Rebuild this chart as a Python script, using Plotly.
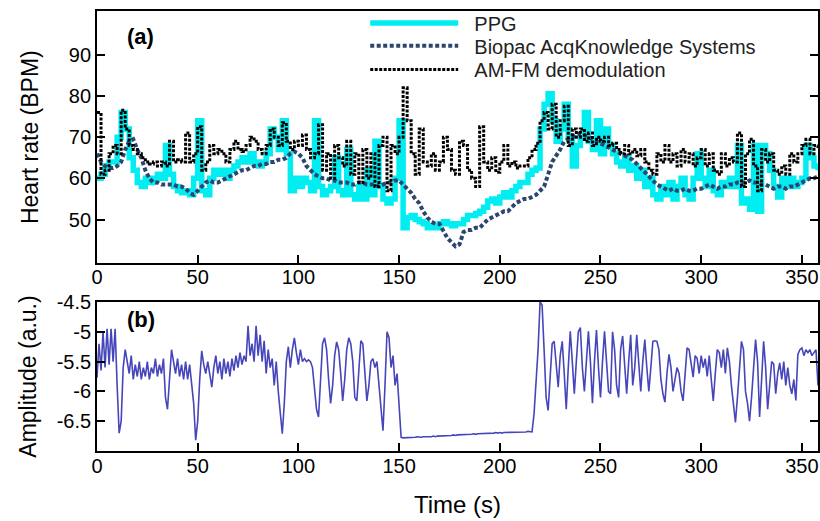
import numpy as np
import plotly.graph_objects as go

# ---------------- data ----------------
# Heart rate series sampled every 2 s from t = 0 s
ppg = [60, 61, 63, 64, 64, 70, 76, 72, 65, 62,
       59, 58, 60, 59, 60, 61, 60, 68, 61, 58,
       57, 56.5, 57, 56, 60, 74, 57, 56, 60, 62,
       61, 62, 60, 62, 63, 64, 65, 64, 66, 64,
       63, 64, 66, 72, 70, 67, 74, 66, 57, 60,
       58, 60, 59, 57, 74, 58, 56, 57, 58, 65,
       57, 56, 67, 56, 55, 58, 55, 62, 56, 69,
       58, 55, 54, 55, 60, 74, 48, 50.5, 51, 50,
       49.5, 49, 48, 48.5, 48, 49, 49.5, 49, 48.5, 49,
       49, 50, 51, 51, 51.5, 52, 53, 54.5, 55, 54,
       55.5, 56.5, 55.5, 57, 58, 59, 59, 61, 62, 62.5,
       72, 78, 80.5, 74, 69, 72, 78, 70, 63, 68,
       70, 76, 69, 67, 74, 66, 72, 68, 66, 64,
       63, 65, 62, 63, 60, 62, 58, 60, 56, 55,
       58, 56, 59, 55, 58, 60, 56, 55, 60, 66,
       60, 58, 62, 57, 56, 59, 58, 60, 58, 68,
       54, 55, 52.5, 68, 52, 68, 66, 62, 58, 55.5,
       60, 58, 60, 58, 59, 60, 68, 65, 63, 62]

biopac = [66, 64, 63, 62.5, 62.5, 63, 64, 67, 69, 69.5,
          67, 65, 62, 60, 59, 59, 58.5, 58.5, 58.5, 58.5,
          58, 58, 57.5, 56.5, 56, 57, 58, 59, 59.5, 59,
          59, 59.5, 60, 60.5, 61, 61.5, 62, 62, 62.5, 63,
          63, 63.5, 63.5, 64, 64, 64.5, 64.5, 65, 66, 66.5,
          66, 65, 63, 62, 61, 60.5, 60, 60, 59.5, 59.5,
          59, 59, 59, 58.5, 58.5, 59, 59, 58.5, 58.5, 58.5,
          58, 58.5, 59, 59, 59.5, 59.5, 58.5, 57.5, 56.5, 55,
          54, 52, 50.5, 49.5, 49, 49, 47, 45.5, 44.5, 43.5,
          44, 47, 47.5, 47.5, 48, 48, 49, 50, 50.5, 51,
          51.5, 52, 52, 53, 54, 54.5, 55, 55, 55.5, 56,
          57, 58, 61, 64, 65.5, 67, 69, 69.5, 70, 70.5,
          71, 70.5, 70, 69.5, 69, 68.5, 68, 67.5, 67, 66.5,
          66, 65.5, 65, 64.5, 63.5, 62.5, 61.5, 60.5, 59.5, 58.5,
          58, 57.5, 57, 57.5, 57, 57, 57.5, 57, 57, 57.5,
          57.5, 58, 58.5, 58, 57.5, 58, 58, 58.5, 58.5, 59,
          59, 59, 59.5, 59, 59, 58.5, 58.5, 58, 57.5, 58,
          58, 57.5, 58, 58, 58.5, 59, 59.5, 60, 60, 60.5]

amfm = [76, 61, 62, 66, 68, 66, 76.5, 72, 68, 67,
        66, 65, 64, 63.5, 64, 63, 64, 63, 69, 64,
        64.5, 64, 71, 64, 66, 72.5, 62, 64, 68, 66,
        67, 66, 64, 67, 69, 67, 66.5, 68, 70, 69,
        67, 66, 68, 72, 70, 68, 73.5, 69, 67, 69,
        68, 70.5, 67, 65, 66, 73, 62, 66, 60, 68,
        65, 63, 69, 61, 66, 59, 67, 60, 66, 58,
        68, 70, 57, 68, 66, 70, 82, 74, 66, 61,
        72, 64, 63, 66, 62, 64, 70, 67, 62, 61,
        69, 68, 62, 60, 58, 72.5, 64, 62, 65, 61.5,
        64, 68, 63, 64, 62.5, 63, 63, 65, 67, 68.5,
        74, 76, 72, 78, 70, 74, 77.5, 68, 72, 70,
        72, 69, 71, 68, 70, 69, 70, 68, 68.5, 67,
        66, 68, 66, 67, 65.5, 67, 64, 62, 61, 66,
        64, 68, 64, 66, 63, 67, 64, 66, 63, 65,
        67, 63, 66, 62, 61, 66, 63, 65, 64, 71,
        58, 66, 69.5, 63, 57, 67, 64, 66, 62, 61,
        63, 61, 66, 64, 66, 68, 69.5, 66, 68, 67]

# Amplitude sampled every 1 s from t = 0 s
amp = [-5.77, -5.2, -5.65, -5.0, -5.6, -4.95, -5.55, -4.95, -5.5, -4.95,
       -5.9, -6.7, -6.5, -5.6, -5.3, -5.5, -5.7, -5.4, -5.8, -5.55,
       -5.75, -5.5, -5.8, -5.6, -5.75, -5.5, -5.8, -5.6, -5.7, -5.45,
       -5.75, -5.55, -5.7, -5.45, -6.1, -6.3, -5.8, -5.3, -5.5, -5.7,
       -5.45, -5.75, -5.55, -5.8, -5.5, -5.8, -5.55, -5.85, -6.2, -6.82,
       -6.5, -5.8, -5.32, -5.55, -5.7, -5.5, -5.75, -5.93, -5.6, -5.4,
       -5.7, -5.5, -5.8, -5.45, -5.7, -5.5, -5.75, -5.45, -5.65, -5.4,
       -5.6, -5.35, -5.55, -5.4, -5.5, -4.9, -5.4, -5.2, -5.5, -4.9,
       -5.4, -5.05, -5.5, -5.15, -5.7, -5.3, -5.6, -5.45, -5.9, -5.5,
       -6.0, -6.4, -6.71, -6.2, -5.5, -5.25, -5.6, -5.3, -5.1, -5.35,
       -5.55, -5.3, -5.5, -5.45, -5.5, -5.47, -5.5, -5.6, -5.9, -6.3,
       -6.43, -5.9, -5.2, -5.1, -5.3, -5.8, -6.2, -5.9, -5.4, -5.17,
       -5.3, -5.7, -6.16, -5.8, -5.3, -5.1, -5.2, -5.5, -6.1, -6.16,
       -5.6, -5.15, -5.2, -5.7, -6.16, -5.9, -5.5, -5.45, -5.6, -5.5,
       -5.9, -6.3, -6.66, -5.9, -5.0, -5.1, -5.6, -5.4, -5.9, -5.7,
       -6.3, -6.77,
       -6.78, -6.78, -6.77, -6.78, -6.77, -6.77, -6.77, -6.76, -6.77,
       -6.77, -6.76, -6.76, -6.77, -6.76, -6.76, -6.75, -6.76, -6.75, -6.75,
       -6.75, -6.74, -6.75, -6.74, -6.74, -6.74, -6.73, -6.74, -6.73, -6.73,
       -6.73, -6.72, -6.73, -6.72, -6.72, -6.72, -6.71, -6.72, -6.71, -6.71,
       -6.71, -6.71, -6.70, -6.71, -6.70, -6.70, -6.70, -6.69, -6.70, -6.69,
       -6.70, -6.69, -6.69, -6.69, -6.68, -6.69, -6.68, -6.69, -6.68, -6.68,
       -6.68, -6.69, -6.68, -6.67, -6.68, -6.68,
       -6.38, -5.9, -5.3, -4.5, -4.55, -5.3, -6.1, -6.32, -5.7, -5.2,
       -5.16, -5.6, -5.93, -5.4, -5.16, -5.7, -6.3, -5.6, -4.99, -5.5,
       -6.04, -5.5, -5.0, -4.93, -5.6, -6.0, -5.4, -4.99, -5.5, -6.2,
       -5.5, -4.97, -5.6, -6.1, -5.5, -4.99, -5.5, -6.0, -6.04, -5.0,
       -5.3, -5.9, -6.1, -5.3, -5.07, -5.6, -6.04, -5.5, -5.05, -5.9,
       -5.6, -5.05, -5.6, -6.0, -5.5, -5.13, -5.6, -6.0, -5.6, -5.16,
       -5.15, -5.16, -5.3, -5.8, -6.04, -6.18, -5.7, -5.38, -5.6, -6.0,
       -5.8, -5.6, -5.7, -6.0, -6.16, -5.7, -5.27, -5.3, -5.5, -5.76,
       -5.4, -5.45, -5.7, -5.4, -5.6, -5.45, -5.75, -5.4, -5.8, -6.16,
       -5.7, -5.3, -5.35, -5.6, -5.3, -5.7, -5.27, -5.5, -5.9, -6.2,
       -6.52, -6.1, -5.6, -5.16, -5.3, -6.0, -6.2, -6.5, -6.1, -5.65,
       -5.13, -5.5, -6.43, -5.8, -5.16, -5.6, -6.3, -5.9, -5.5, -5.54,
       -6.04, -5.7, -5.52, -5.8, -5.5, -5.9, -5.6, -5.9, -6.04, -5.8,
       -6.15, -5.38, -5.3, -5.27, -5.4, -5.3, -5.35, -5.3, -5.4, -5.35,
       -5.3, -5.9, -5.5]

x_ticks = [0, 50, 100, 150, 200, 250, 300, 350]
hr_ticks = [50, 60, 70, 80, 90]
amp_ticks = [-4.5, -5, -5.5, -6, -6.5]
amp_tick_text = ["-4.5", "-5", "-5.5", "-6", "-6.5"]

t_hr = np.arange(len(ppg)) * 2
t_amp = np.arange(len(amp))

FONT = "Liberation Sans, Arial, Helvetica, sans-serif"
PAD = "\u00a0\u00a0"

fig = go.Figure()
fig.add_trace(go.Scatter(x=t_hr, y=ppg, name=PAD + "PPG", mode="lines", line_shape="hv",
                         line=dict(color="#00EEF2", width=5.5), xaxis="x", yaxis="y",
                         legend="legend"))
fig.add_trace(go.Scatter(x=t_hr, y=biopac, name=PAD + "Biopac AcqKnowledge Systems", mode="lines",
                         line=dict(color="#2C4670", width=4, dash="4px,2.5px"), xaxis="x", yaxis="y",
                         legend="legend2"))
fig.add_trace(go.Scatter(x=t_hr, y=amfm, name=PAD + "AM-FM demodulation", mode="lines", line_shape="hv",
                         line=dict(color="#000000", width=3, dash="3px,1.5px"), xaxis="x", yaxis="y",
                         legend="legend3"))
fig.add_trace(go.Scatter(x=t_amp, y=amp, name="Amplitude", mode="lines", showlegend=False,
                         line=dict(color="#4646BA", width=1.6), xaxis="x2", yaxis="y2"))

axis_common = dict(showline=True, linecolor="black", linewidth=1.8, mirror="ticks",
                   ticks="inside", ticklen=8, tickwidth=1.5, tickcolor="black",
                   showgrid=False, zeroline=False,
                   tickfont=dict(family=FONT, size=20, color="black"))

leg_common = dict(xanchor="left", yanchor="middle", bgcolor="rgba(0,0,0,0)",
                  font=dict(family=FONT, size=20, color="#222222"), itemwidth=88)

fig.update_layout(
    width=820, height=521,
    margin=dict(l=97, r=0, t=8, b=70),
    paper_bgcolor="white", plot_bgcolor="white",
    font=dict(family=FONT, color="black"),
    xaxis=dict(axis_common, domain=[0, 1], range=[0, 358], tickvals=x_ticks, anchor="y",
               mirror=True, ticklabelstandoff=-5),
    yaxis=dict(axis_common, domain=[0.4266, 1.0], range=[39.4, 100.6], tickvals=hr_ticks,
               anchor="x",
               title=dict(text="Heart rate (BPM)", font=dict(family=FONT, size=23), standoff=24)),
    xaxis2=dict(axis_common, domain=[0, 1], range=[0, 358], tickvals=x_ticks, anchor="y2",
                mirror=True, ticklabelstandoff=-4,
                title=dict(text="Time (s)", font=dict(family=FONT, size=24), standoff=20)),
    yaxis2=dict(axis_common, domain=[0, 0.3386], range=[-7.0, -4.5], tickvals=amp_ticks,
                ticktext=amp_tick_text, anchor="x2",
                title=dict(text="Amplitude (a.u.)", font=dict(family=FONT, size=23), standoff=14)),
    legend=dict(leg_common, x=0.372, y=0.9729),
    legend2=dict(leg_common, x=0.372, y=0.9210),
    legend3=dict(leg_common, x=0.372, y=0.8668),
    showlegend=True,
    annotations=[
        dict(text="<b>(a)</b>", x=0.039, y=0.941, xref="paper", yref="paper", xanchor="left",
             yanchor="middle", showarrow=False, font=dict(family=FONT, size=22, color="black")),
        dict(text="<b>(b)</b>", x=0.039, y=0.300, xref="paper", yref="paper", xanchor="left",
             yanchor="middle", showarrow=False, font=dict(family=FONT, size=22, color="black")),
    ],
)

fig.write_html("out.html")
